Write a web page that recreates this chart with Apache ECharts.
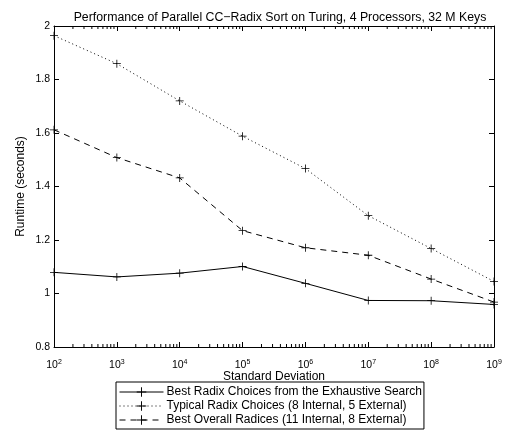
<!DOCTYPE html>
<html><head><meta charset="utf-8">
<script src="https://cdn.jsdelivr.net/npm/echarts@6/dist/echarts.min.js"></script>
<style>html,body{margin:0;padding:0;background:#fff}#c{width:507px;height:432px}</style>
</head><body><div id="c"></div>
<script>
const stdDevs = [1e2, 1e3, 1e4, 1e5, 1e6, 1e7, 1e8, 1e9];
const bestExhaustive = [1.079, 1.062, 1.076, 1.101, 1.038, 0.974, 0.973, 0.959];
const typicalRadix = [1.964, 1.859, 1.720, 1.588, 1.467, 1.291, 1.168, 1.045];
const bestOverall = [1.612, 1.508, 1.432, 1.235, 1.171, 1.143, 1.054, 0.968];
const seriesNames = [
  'Best Radix Choices from the Exhaustive Search',
  'Typical Radix Choices (8 Internal, 5 External)',
  'Best Overall Radices (11 Internal, 8 External)'
];
const yTicks = [0.8, 1, 1.2, 1.4, 1.6, 1.8, 2];
const minorTickValues = [];
for (let e = 2; e < 9; e++) for (let m = 2; m <= 9; m++) minorTickValues.push(m * Math.pow(10, e));

const FONT = 'Liberation Sans, Arial, Helvetica, sans-serif';
const plus = 'path://M4.5,0h1v4.5h4.5v1h-4.5v4.5h-1v-4.5h-4.5v-1h4.5z';

function mk(name, vals, dash) {
  return {
    name: name, type: 'line', data: stdDevs.map((x, i) => [x, vals[i]]),
    symbol: plus, symbolSize: 8, showAllSymbol: true,
    itemStyle: { color: '#000' },
    lineStyle: { color: '#000', width: 1, type: dash },
    clip: false, animation: false, z: 3
  };
}

const chart = echarts.init(document.getElementById('c'), null, { renderer: 'canvas' });
const axisCommon = {
  type: 'log', logBase: 10, min: 1e2, max: 1e9, splitNumber: 7,
  axisLine: { show: true, lineStyle: { color: '#000', width: 1 } },
  axisTick: { show: true, inside: true, length: 5, lineStyle: { color: '#000' } },
  splitLine: { show: false }
};
chart.setOption({
  animation: false,
  textStyle: { fontFamily: FONT },
  title: {
    text: 'Performance of Parallel CC\u2212Radix Sort on Turing, 4 Processors, 32 M Keys',
    left: 275, top: 7, textAlign: 'center',
    textStyle: { fontSize: 12.3, fontWeight: 'normal', color: '#000', fontFamily: FONT }
  },
  grid: { left: 54, right: 13, top: 26, bottom: 85 },
  legend: {
    orient: 'vertical', left: 116, top: 382,
    data: seriesNames,
    itemWidth: 44, itemHeight: 12, itemGap: 2,
    padding: [4, 2, 3, 3],
    borderColor: '#000', borderWidth: 1, backgroundColor: '#fff',
    lineStyle: { width: 1, color: 'inherit', type: 'inherit' },
    textStyle: { fontSize: 12, color: '#000', fontFamily: FONT, padding: [0, 0, 0, -2] }
  },
  xAxis: [
    Object.assign({}, axisCommon, {
      position: 'bottom',
      name: 'Standard Deviation', nameLocation: 'middle', nameGap: 24, nameMoveOverlap: false,
      nameTextStyle: { fontSize: 12, color: '#000', fontFamily: FONT },
      axisLabel: {
        color: '#000', margin: 12,
        formatter: v => '{b|10}{s|' + Math.round(Math.log10(v)) + '}',
        rich: {
          b: { fontSize: 10.5, color: '#000', fontFamily: FONT },
          s: { fontSize: 7, color: '#000', fontFamily: FONT, verticalAlign: 'top', padding: [0, 0, 6, 0] }
        }
      }
    }),
    Object.assign({}, axisCommon, { position: 'top', axisLabel: { show: false } })
  ],
  yAxis: [
    {
      type: 'value', min: 0.8, max: 2, interval: 0.2, position: 'left',
      name: 'Runtime (seconds)', nameLocation: 'middle', nameGap: 27, nameMoveOverlap: false,
      nameTextStyle: { fontSize: 12, color: '#000', fontFamily: FONT },
      axisLine: { show: true, lineStyle: { color: '#000', width: 1 } },
      axisTick: { show: true, inside: true, length: 5, lineStyle: { color: '#000' } },
      axisLabel: { color: '#000', fontSize: 10.5, fontFamily: FONT, margin: 4,
        formatter: v => String(Math.round(v * 10) / 10) },
      splitLine: { show: false }
    },
    {
      type: 'value', min: 0.8, max: 2, interval: 0.2, position: 'right',
      axisLine: { show: true, lineStyle: { color: '#000', width: 1 } },
      axisTick: { show: true, inside: true, length: 5, lineStyle: { color: '#000' } },
      axisLabel: { show: false }, splitLine: { show: false }
    }
  ],
  series: [
    mk(seriesNames[0], bestExhaustive, 'solid'),
    mk(seriesNames[1], typicalRadix, [1, 3]),
    mk(seriesNames[2], bestOverall, [6, 5]),
    {
      type: 'custom', name: 'minorTicks', silent: true, clip: false, z: 2,
      data: minorTickValues.map(v => [v]),
      renderItem: function (params, api) {
        const b = api.coord([api.value(0), 0.8]);
        const t = api.coord([api.value(0), 2]);
        return { type: 'group', children: [
          { type: 'line', shape: { x1: b[0], y1: b[1], x2: b[0], y2: b[1] - 3 }, style: { stroke: '#000', lineWidth: 1 } },
          { type: 'line', shape: { x1: t[0], y1: t[1], x2: t[0], y2: t[1] + 3 }, style: { stroke: '#000', lineWidth: 1 } }
        ]};
      }
    }
  ]
});
</script></body></html>
